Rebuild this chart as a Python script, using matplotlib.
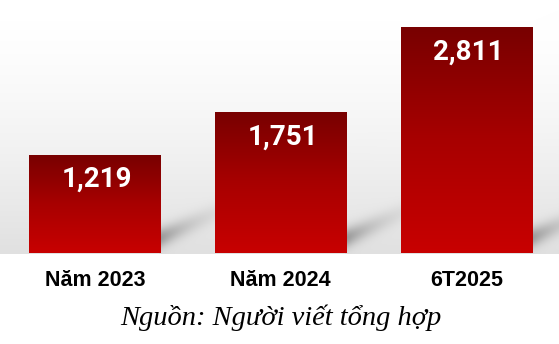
import numpy as np
import matplotlib.pyplot as plt
from matplotlib.colors import LinearSegmentedColormap

# Data
categories = ['Năm 2023', 'Năm 2024', '6T2025']
values = [1219, 1751, 2811]
value_labels = ['1,219', '1,751', '2,811']
source = 'Nguồn: Người viết tổng hợp'

W, H = 559, 344
BASE = 253  # pixel row of bar feet
fig = plt.figure(figsize=(W / 100, H / 100), dpi=100)

# background: soft grey floor behind the bars, fading upward
bg = fig.add_axes([0, 0, 1, 1])
px = np.arange(W)[None, :]
py = np.arange(H)[:, None]
t = np.clip((py - 20) / (BASE - 20), 0, 1)
shade = 0.12 * t ** 1.4
shade = np.where(py > BASE, 0.0, shade) * np.ones((1, W))

# cast shadows to the right of each bar foot
for xr in [161, 347, 532]:
    dx = px - xr
    line = BASE - 16 - 0.45 * dx
    s = np.exp(-((py - line) / 10.0) ** 2) * np.exp(-np.clip(dx, 0, None) / 32.0)
    s = np.where((dx >= -2) & (py <= BASE), s, 0)
    shade = shade + 0.28 * s
grey = 1 - np.clip(shade, 0, 0.4)
bg.imshow(np.dstack([grey, grey, grey]), extent=[0, W, H, 0], aspect='auto')
bg.set_xlim(0, W)
bg.set_ylim(H, 0)
bg.axis('off')

# bar axes: feet at BASE px, centres 95 / 281 / 466 px
ax = fig.add_axes([0, (H - BASE) / H, 1, BASE / H])
spacing = 185.75
scale = 0.0801  # px per unit
ax.set_xlim(-95 / spacing, (W - 95) / spacing)
ax.set_ylim(0, BASE / scale)
ax.axis('off')

cmap = LinearSegmentedColormap.from_list('red', ['#c80000', '#a80000', '#780000'])
grad = np.linspace(0, 1, 256)[:, None]
width = 132 / spacing
x = np.arange(len(values))
bars = ax.bar(x, values, width=width, color='none', edgecolor='none')
for b in bars:
    x0, y0 = b.get_x(), b.get_y()
    w, h = b.get_width(), b.get_height()
    ax.imshow(grad, cmap=cmap, extent=[x0, x0 + w, y0, y0 + h],
              origin='lower', aspect='auto', zorder=2)
ax.set_xlim(-95 / spacing, (W - 95) / spacing)
ax.set_ylim(0, BASE / scale)

for xi, v, lab in zip(x, values, value_labels):
    ax.annotate(lab, (xi, v), xytext=(2, -24), textcoords='offset pixels',
                ha='center', va='center', color='white', fontsize=20,
                fontweight='bold', fontfamily='Roboto', zorder=3)

for xi, cat in zip(x, categories):
    ax.annotate(cat, (xi, 0), xytext=(0, -28), textcoords='offset pixels',
                ha='center', va='center', color='black', fontsize=15.5,
                fontweight='bold', fontfamily='Liberation Sans',
                annotation_clip=False)

fig.text(281 / W, 1 - 318 / H, source, ha='center', va='center',
         fontsize=20.5, fontstyle='italic', fontfamily='Liberation Serif')

fig.savefig('out.png', dpi=100)
